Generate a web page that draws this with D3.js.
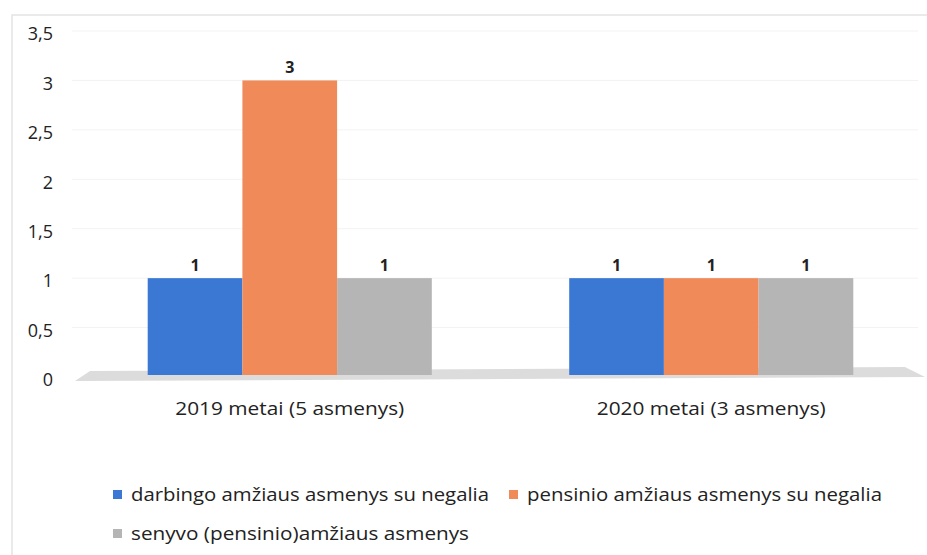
<!DOCTYPE html>
<html>
<head>
<meta charset="utf-8">
<script src="https://cdn.jsdelivr.net/npm/d3@7"></script>
<style>
  body { margin: 0; background: #fff; }
  svg { display: block; font-family: "Open Sans", "DejaVu Sans Condensed", sans-serif; }
</style>
</head>
<body>
<div id="chart"></div>
<script>
// data
var categories = ['2019 metai (5 asmenys)', '2020 metai (3 asmenys)'];
var seriesNames = ['darbingo amžiaus asmenys su negalia', 'pensinio amžiaus asmenys su negalia', 'senyvo (pensinio)amžiaus asmenys'];
var values2019 = [1, 3, 1];
var values2020 = [1, 1, 1];
var yTicks = [0, 0.5, 1, 1.5, 2, 2.5, 3, 3.5];
var colors = ['#3b78d3', '#f08a59', '#b5b5b5'];

var DATA = categories.map((c, i) => ({
    cat: c,
    vals: (i == 0 ? values2019 : values2020).map((v, j) => ({ key: seriesNames[j], v: v }))
}));

const svgWidth = 927;
const svgHeight = 555;

const svg = d3.select('#chart').append('svg')
    .attr('width', svgWidth)
    .attr('height', svgHeight);

// frame of the pasted chart
svg.append('path')
    .attr('d', 'M12,555 V15 H927')
    .attr('fill', 'none')
    .attr('stroke', '#e4e4e4')
    .attr('stroke-width', 1.5);

var yScale = d3.scaleLinear().domain([0, 3.5]).range([377, 31]);
var x0 = d3.scaleBand().domain(categories).range([79, 922]).paddingInner(0.326).paddingOuter(0.163);
var x1 = d3.scaleBand().domain(seriesNames).range([0, x0.bandwidth()]);

// faint gridlines
svg.append('g').selectAll('line').data(yTicks.slice(1)).enter().append('line')
    .attr('x1', 72).attr('x2', 918)
    .attr('y1', d => yScale(d)).attr('y2', d => yScale(d))
    .attr('stroke', '#f3f3f3').attr('stroke-width', 1);

// y axis labels
var yAxis = svg.append('g')
    .attr('transform', 'translate(53,3)')
    .call(d3.axisLeft(yScale).tickValues(yTicks).tickSize(0).tickPadding(0)
        .tickFormat(d => String(d).replace('.', ',')));
yAxis.select('.domain').remove();
yAxis.selectAll('text')
    .attr('font-size', 18)
    .attr('font-family', '"Open Sans", sans-serif')
    .attr('fill', '#222');

// floor band
var y0 = yScale(0);
svg.append('path')
    .attr('d', `M75,${y0 + 4} L90,${y0 - 6} L905,${y0 - 10} L925,${y0} Z`)
    .attr('fill', '#dcdcdc');

var groups = svg.selectAll('g.grp').data(DATA).enter().append('g')
    .attr('class', 'grp')
    .attr('transform', d => `translate(${x0(d.cat)},0)`);

groups.selectAll('rect').data(d => d.vals).enter().append('rect')
    .attr('x', d => x1(d.key))
    .attr('y', d => yScale(d.v))
    .attr('width', x1.bandwidth())
    .attr('height', d => yScale(0) - yScale(d.v) - 2)
    .attr('fill', (d, i) => colors[i]);

groups.selectAll('text.lbl').data(d => d.vals).enter().append('text')
    .attr('class', 'lbl')
    .attr('x', d => x1(d.key) + x1.bandwidth() / 2)
    .attr('y', d => yScale(d.v) - 7)
    .attr('text-anchor', 'middle')
    .attr('font-size', 16)
    .attr('font-weight', 'bold')
    .attr('fill', '#222')
    .text(d => d.v);

// category labels
var xAxis = svg.append('g')
    .attr('transform', `translate(0,${yScale(0)})`)
    .call(d3.axisBottom(x0).tickSize(0).tickPadding(0));
xAxis.select('.domain').remove();
xAxis.selectAll('text')
    .attr('y', 38)
    .attr('dy', 0)
    .attr('font-size', 18)
    .attr('font-family', '"Open Sans", sans-serif')
    .attr('fill', '#222')
    .attr('textLength', 229)
    .attr('lengthAdjust', 'spacingAndGlyphs');

// legend
var legendPos = [[113, 496], [509, 496], [113, 535]];
var legendLen = [358, 355, 338];
var legend = svg.append('g').selectAll('g').data(seriesNames).enter().append('g')
    .attr('transform', (d, i) => `translate(${legendPos[i][0]},${legendPos[i][1]})`);
legend.append('rect')
    .attr('x', 0).attr('y', -6).attr('width', 9).attr('height', 9)
    .attr('fill', (d, i) => colors[i]);
legend.append('text')
    .attr('x', 18).attr('y', 5)
    .attr('font-size', 19)
    .attr('fill', '#222')
    .attr('textLength', (d, i) => legendLen[i])
    .attr('lengthAdjust', 'spacingAndGlyphs')
    .text(d => d);
</script>
</body>
</html>
